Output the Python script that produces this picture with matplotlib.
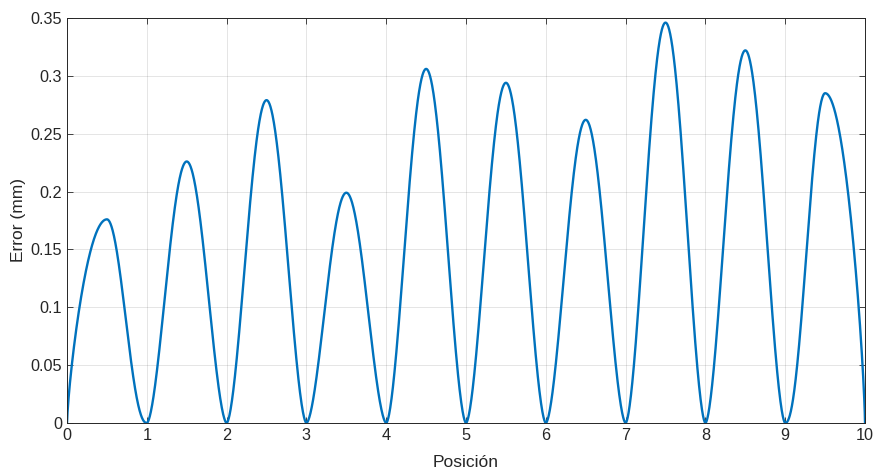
import numpy as np
import matplotlib.pyplot as plt

plt.rcParams['font.family'] = ['Liberation Sans', 'DejaVu Sans']

# peak error of each segment between integer positions
segment_start = [0, 1, 2, 3, 4, 5, 6, 7, 8, 9]
peak_error = [0.176, 0.226, 0.279, 0.199, 0.306, 0.294, 0.262, 0.346, 0.322, 0.285]

xs, ys = [], []
n_seg = len(segment_start)
for i, (x0, pk) in enumerate(zip(segment_start, peak_error)):
    t = np.linspace(0, 1, 300)
    s = np.abs(np.sin(np.pi * t))
    prof = s ** 1.7
    if i == 0:
        prof = np.where(t < 0.5, s ** 0.75, s ** 2.2)
    if i == n_seg - 1:
        prof = np.where(t > 0.5, s ** 0.75, s ** 2.2)
    xs.append(x0 + t)
    ys.append(pk * prof)
x = np.concatenate(xs)
y = np.concatenate(ys)

fig = plt.figure(figsize=(8.75, 4.71), dpi=100)
ax = fig.add_axes([0.0766, 0.1019, 0.912, 0.8599])
ax.plot(x, y, color='#0072BD', lw=1.7)

ax.set_xlim(0, 10)
ax.set_ylim(0, 0.35)
ax.set_xticks(range(0, 11))
ax.set_yticks([0, 0.05, 0.1, 0.15, 0.2, 0.25, 0.3, 0.35])
ax.set_yticklabels(['0', '0.05', '0.1', '0.15', '0.2', '0.25', '0.3', '0.35'])
ax.grid(True, color='#262626', alpha=0.12, lw=0.7)
ax.tick_params(direction='in', top=True, right=True, length=4, width=0.6,
               colors='#262626', labelsize=11.7)
for s in ax.spines.values():
    s.set_color('#262626')
    s.set_linewidth(0.7)
ax.set_xlabel('Posición', fontsize=12.5, color='#262626', labelpad=9)
ax.set_ylabel('Error (mm)', fontsize=12.5, color='#262626', labelpad=3)

plt.savefig('out.png', dpi=100)
